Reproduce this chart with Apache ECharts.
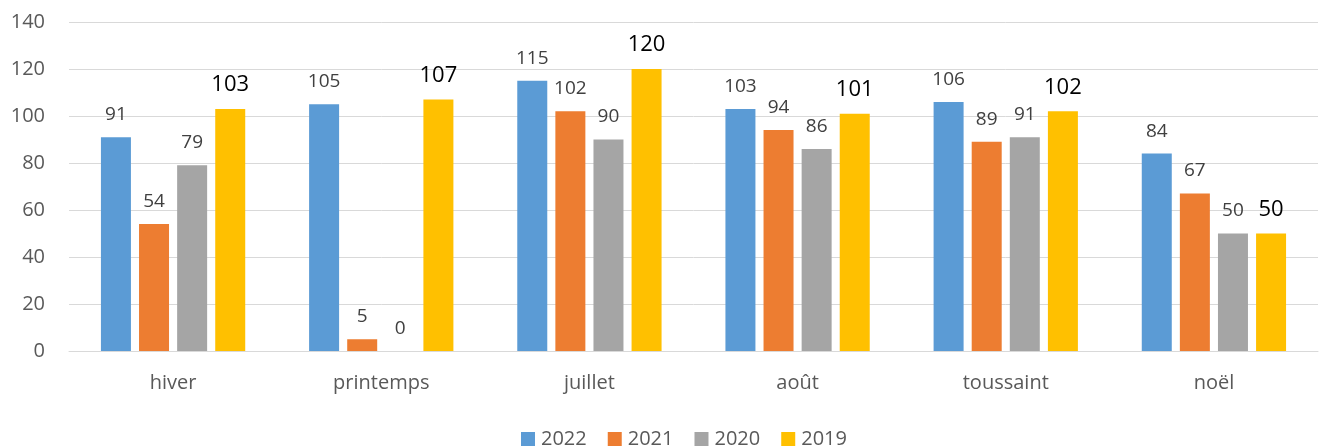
<!DOCTYPE html>
<html>
<head>
<meta charset="utf-8">
<script src="https://cdn.jsdelivr.net/npm/echarts@6/dist/echarts.min.js"></script>
<style>
html, body { margin: 0; padding: 0; background: #fff; }
#chart { width: 1330px; height: 446px; }
</style>
</head>
<body>
<div id="chart"></div>
<script>
const categories = ["hiver", "printemps", "juillet", "août", "toussaint", "noël"];
const years = ["2022", "2021", "2020", "2019"];
const v2022 = [91, 105, 115, 103, 106, 84];
const v2021 = [54, 5, 102, 94, 89, 67];
const v2020 = [79, 0, 90, 86, 91, 50];
const v2019 = [103, 107, 120, 101, 102, 50];
const colors = ["#5B9BD5", "#ED7D31", "#A5A5A5", "#FFC000"];

const font = "Open Sans";
const values = [v2022, v2021, v2020, v2019];

// 2019 labels are drawn bigger and black in the original
const series = years.map(function (y, i) {
    const last = i === 3;
    return {
        name: y,
        type: "bar",
        data: values[i],
        barWidth: 30,
        barGap: "27%",
        itemStyle: { color: colors[i] },
        label: {
            show: true,
            position: "top",
            distance: 13,
            fontFamily: font,
            fontWeight: "normal",
            fontSize: last ? 22 : 19,
            color: last ? "#000000" : "#404040"
        }
    };
});

const chart = echarts.init(document.getElementById("chart"));
chart.setOption({
    animation: false,
    color: colors,
    grid: { left: 69, right: 12, top: 22, bottom: 95 },
    legend: {
        top: 424,
        left: 516,
        itemWidth: 14,
        itemHeight: 14,
        itemGap: 21,
        icon: "rect",
        textStyle: { fontFamily: font, fontSize: 20, color: "#595959", padding: [0, 0, 0, 1] }
    },
    xAxis: {
        type: "category",
        data: categories,
        axisLine: { lineStyle: { color: "#D9D9D9", width: 1 } },
        axisTick: { show: false },
        axisLabel: { fontFamily: font, fontSize: 20, color: "#595959", margin: 22 }
    },
    yAxis: {
        type: "value",
        min: 0,
        max: 140,
        interval: 20,
        axisLine: { show: false },
        axisTick: { show: false },
        splitLine: { lineStyle: { color: "#D9D9D9", width: 1 } },
        axisLabel: { fontFamily: font, fontSize: 20, color: "#595959", margin: 24 }
    },
    series: series
});
</script>
</body>
</html>
